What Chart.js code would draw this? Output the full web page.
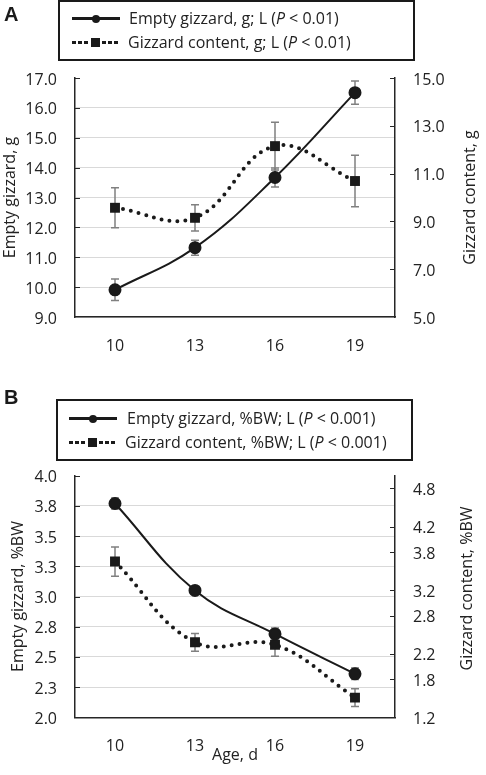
<!DOCTYPE html>
<html>
<head>
<meta charset="utf-8">
<script src="https://cdn.jsdelivr.net/npm/chart.js@4/dist/chart.umd.min.js"></script>
<style>
  html,body{margin:0;padding:0;background:#fff;}
  #wrap{position:relative;width:486px;height:775px;overflow:hidden;font-family:'Open Sans',sans-serif;color:#222;}
  .panel{position:absolute;left:0;width:486px;}
  .letter{position:absolute;left:4px;font:bold 20px 'Liberation Sans',Arial,sans-serif;color:#1a1a1a;line-height:20px;}
  .legend{position:absolute;box-sizing:border-box;border:2px solid #1a1a1a;background:#fff;}
  .row{position:absolute;height:22px;line-height:22px;font-size:16px;white-space:nowrap;}
  .sym{position:absolute;width:48px;height:22px;}
  .solid::before{content:'';position:absolute;left:0;right:0;top:10px;height:3px;background:#1a1a1a;}
  .solid::after{content:'';position:absolute;left:20px;top:7.5px;width:8px;height:8px;border-radius:50%;background:#1a1a1a;}
  .dots::before{content:'';position:absolute;left:0;right:0;top:10px;height:3px;
    background:repeating-linear-gradient(90deg,#1a1a1a 0 4px,transparent 4px 6px);}
  .dots::after{content:'';position:absolute;left:19px;top:7px;width:9px;height:9px;background:#1a1a1a;box-shadow:0 0 0 2px #fff;}
</style>
</head>
<body>
<div id="wrap">
  <div class="panel" style="top:0;height:385px"><canvas id="chartA" width="486" height="385"></canvas></div>
  <div class="panel" style="top:385px;height:390px"><canvas id="chartB" width="486" height="390"></canvas></div>

  <div class="letter" style="top:4px">A</div>
  <div class="legend" style="left:58px;top:0;width:357px;height:61px"></div>
  <div class="sym solid" style="left:72px;top:7px"></div>
  <div class="row" style="left:129px;top:7px">Empty gizzard, g; L (<i>P</i> &lt; 0.01)</div>
  <div class="sym dots" style="left:72px;top:31px"></div>
  <div class="row" style="left:128px;top:31px">Gizzard content, g; L (<i>P</i> &lt; 0.01)</div>

  <div class="letter" style="top:387px">B</div>
  <div class="legend" style="left:56px;top:399px;width:357px;height:62px"></div>
  <div class="sym solid" style="left:69px;top:407px"></div>
  <div class="row" style="left:127px;top:407px">Empty gizzard, %BW; L (<i>P</i> &lt; 0.001)</div>
  <div class="sym dots" style="left:69px;top:431px"></div>
  <div class="row" style="left:125px;top:431px">Gizzard content, %BW; L (<i>P</i> &lt; 0.001)</div>
</div>
<script>
// ages (d)
const ages = ['10', '13', '16', '19'];

// panel A, grams
const emptyG = [9.91, 11.32, 13.67, 16.51];
const emptyGErr = [0.36, 0.25, 0.32, 0.39];
const contentG = [9.57, 9.15, 12.15, 10.69];
const contentGErr = [0.84, 0.55, 1.0, 1.08];

// panel B, % body weight
const emptyBW = [3.77, 3.05, 2.69, 2.36];
const emptyBWErr = [0.045, 0.025, 0.05, 0.048];
const contentBW = [3.65, 2.38, 2.34, 1.51];
const contentBWErr = [0.23, 0.14, 0.18, 0.14];

// odd right-hand ticks of panel B, as printed
const rightTicksB = [1.2, 1.8, 2.2, 2.8, 3.2, 3.8, 4.2, 4.8];

Chart.defaults.font.family = "'Open Sans', sans-serif";
Chart.defaults.font.size = 16;
Chart.defaults.color = '#222';

const INK = '#1a1a1a';
const AXIS = '#262626';

// gray error bars, under the lines and markers
const errorBars = {
  id: 'errorBars',
  beforeDatasetsDraw(chart) {
    const ctx = chart.ctx;
    chart.data.datasets.forEach((ds, i) => {
      const meta = chart.getDatasetMeta(i);
      const ys = chart.scales[meta.yAxisID];
      ctx.save();
      ctx.strokeStyle = '#808080';
      ctx.lineWidth = 1.5;
      meta.data.forEach((pt, j) => {
        const top = ys.getPixelForValue(ds.data[j] + ds.errors[j]);
        const bot = ys.getPixelForValue(ds.data[j] - ds.errors[j]);
        ctx.beginPath();
        ctx.moveTo(pt.x, top); ctx.lineTo(pt.x, bot);
        ctx.moveTo(pt.x - 4, top); ctx.lineTo(pt.x + 4, top);
        ctx.moveTo(pt.x - 4, bot); ctx.lineTo(pt.x + 4, bot);
        ctx.stroke();
      });
      ctx.restore();
    });
  }
};

// short tick marks pointing into the plot, and the right title read bottom-up
const axisExtras = {
  id: 'axisExtras',
  afterDraw(chart, args, opts) {
    const {ctx, chartArea} = chart;
    ['y', 'y2'].forEach(id => {
      const s = chart.scales[id];
      const onLeft = s.options.position === 'left';
      const x0 = onLeft ? chartArea.left : chartArea.right;
      ctx.save();
      ctx.strokeStyle = AXIS;
      ctx.lineWidth = 1;
      s.ticks.forEach(t => {
        if (t.value <= s.min) return;
        const y = Math.round(s.getPixelForValue(t.value)) + 0.5;
        ctx.beginPath();
        ctx.moveTo(x0, y);
        ctx.lineTo(onLeft ? x0 + 5 : x0 - 5, y);
        ctx.stroke();
      });
      ctx.restore();
    });
    const s2 = chart.scales.y2;
    ctx.save();
    ctx.translate(opts.x, (chartArea.top + chartArea.bottom) / 2 + (opts.shift || 0));
    ctx.rotate(-Math.PI / 2);
    ctx.font = "16px 'Open Sans', sans-serif";
    ctx.fillStyle = '#222';
    ctx.textAlign = 'center';
    ctx.textBaseline = 'middle';
    ctx.fillText(s2.options.title.text, 0, 0);
    ctx.restore();
  }
};

function solidSet(label, data, errors) {
  return {
    label, data, errors, yAxisID: 'y',
    borderColor: INK, backgroundColor: INK, borderWidth: 2,
    pointStyle: 'circle', pointRadius: 5.5, pointBackgroundColor: INK, pointBorderColor: INK,
    tension: 0.4
  };
}
function dottedSet(label, data, errors) {
  return {
    label, data, errors, yAxisID: 'y2',
    borderColor: INK, backgroundColor: INK, borderWidth: 4,
    borderDash: [0, 8], borderCapStyle: 'round',
    pointStyle: 'rect', pointRadius: 7, pointBackgroundColor: INK, pointBorderColor: INK, pointBorderWidth: 0,
    tension: 0.4
  };
}

function makeChart(id, o) {
  return new Chart(document.getElementById(id), {
    type: 'line',
    data: {labels: ages, datasets: o.datasets},
    options: {
      responsive: false,
      animation: false,
      layout: {padding: {top: o.top, left: 0, right: 0, bottom: 0}},
      plugins: {legend: {display: false}, tooltip: {enabled: false}, axisExtras: o.rightTitle},
      scales: {
        x: {
          offset: true,
          grid: {drawOnChartArea: false, drawTicks: false},
          border: {display: true, color: AXIS, width: 1.5},
          ticks: {padding: 20},
          title: o.xTitle,
          afterFit: s => { s.height = o.xHeight; }
        },
        y: {
          position: 'left',
          min: o.y.min, max: o.y.max,
          grid: {
            drawTicks: false,
            color: c => (c.tick && c.tick.value >= o.y.max ? 'rgba(0,0,0,0)' : '#d9d9d9')
          },
          border: {display: true, color: AXIS, width: 1.5},
          ticks: {stepSize: o.y.step, padding: 18, labelOffset: 2, callback: v => Number(v).toFixed(1)},
          title: {display: true, text: o.y.title, padding: {top: o.y.titlePad, bottom: 0}},
          afterFit: s => { s.width = 75; }
        },
        y2: {
          position: 'right',
          min: o.y2.min, max: o.y2.max,
          grid: {drawOnChartArea: false, drawTicks: false},
          border: {display: true, color: AXIS, width: 1.5},
          ticks: {stepSize: o.y2.step, padding: 18, labelOffset: 2, callback: v => Number(v).toFixed(1)},
          afterBuildTicks: o.y2.ticks ? s => { s.ticks = o.y2.ticks.map(v => ({value: v})); } : undefined,
          title: {display: false, text: o.y2.title},
          afterFit: s => { s.width = 91; }
        }
      }
    },
    plugins: [errorBars, axisExtras]
  });
}

makeChart('chartA', {
  top: 78,
  xHeight: 385 - 317,
  xTitle: {display: false},
  datasets: [
    solidSet('Empty gizzard, g', emptyG, emptyGErr),
    dottedSet('Gizzard content, g', contentG, contentGErr)
  ],
  y: {min: 9, max: 17, step: 1, title: 'Empty gizzard, g', titlePad: 0.5},
  y2: {min: 5, max: 15, step: 2, title: 'Gizzard content, g'},
  rightTitle: {x: 470, shift: 0}
});

makeChart('chartB', {
  top: 90.7,
  xHeight: 390 - 332.3,
  xTitle: {display: true, text: 'Age, d', padding: {top: 0, bottom: 10.4}},
  datasets: [
    solidSet('Empty gizzard, %BW', emptyBW, emptyBWErr),
    dottedSet('Gizzard content, %BW', contentBW, contentBWErr)
  ],
  y: {min: 2, max: 4, step: 0.25, title: 'Empty gizzard, %BW', titlePad: 8.5},
  y2: {min: 1.2, max: 5.0, ticks: rightTicksB, title: 'Gizzard content, %BW'},
  rightTitle: {x: 467, shift: -8}
});
</script>
</body>
</html>
